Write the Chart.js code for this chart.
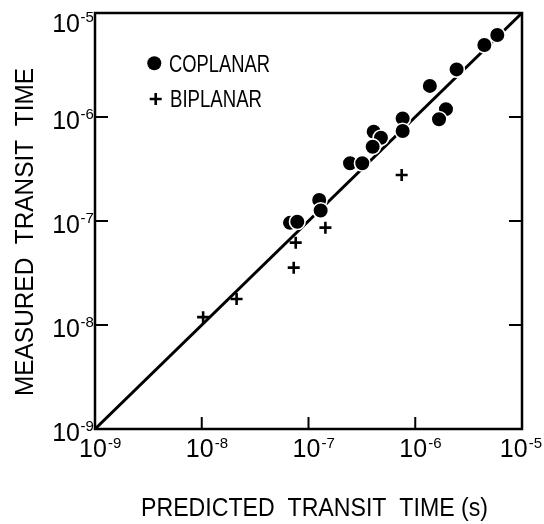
<!DOCTYPE html>
<html>
<head>
<meta charset="utf-8">
<script src="https://cdn.jsdelivr.net/npm/chart.js@4/dist/chart.umd.min.js"></script>
<style>
  html, body { margin: 0; padding: 0; background: #fff; }
  #wrap { width: 544px; height: 524px; }
</style>
</head>
<body>
<div id="wrap"><canvas id="c" width="544" height="524"></canvas></div>
<script>
// ---- data ----
const coplanarX = [5.87e-6, 4.44e-6, 2.44e-6, 1.37e-6, 1.94e-6, 1.67e-6, 7.62e-7, 7.62e-7, 4.08e-7, 4.77e-7, 3.99e-7, 2.45e-7, 3.19e-7, 1.26e-7, 1.30e-7, 6.71e-8, 7.85e-8];
const coplanarY = [6.14e-6, 4.92e-6, 2.87e-6, 1.99e-6, 1.19e-6, 9.5e-7, 9.7e-7, 7.33e-7, 7.22e-7, 6.32e-7, 5.18e-7, 3.59e-7, 3.59e-7, 1.59e-7, 1.26e-7, 9.6e-8, 9.85e-8];
const biplanarX = [7.46e-7, 1.44e-7, 7.59e-8, 7.27e-8, 2.12e-8, 1.03e-8];
const biplanarY = [2.77e-7, 8.63e-8, 6.19e-8, 3.56e-8, 1.78e-8, 1.19e-8];
const lineX = [1e-9, 1e-5];
const lineY = [1e-9, 1e-5];
const tickValues = [1e-9, 1e-8, 1e-7, 1e-6, 1e-5];
const tickBase = '10';
const tickExponents = ['-9', '-8', '-7', '-6', '-5'];
const seriesNames = ['COPLANAR', 'BIPLANAR'];
const xTitle = 'PREDICTED  TRANSIT  TIME (s)';
const yTitle = 'MEASURED  TRANSIT  TIME';

const pts = (xs, ys) => xs.map((x, i) => ({ x: x, y: ys[i] }));
const FONT = '"Liberation Sans", Arial, sans-serif';

function fitText(ctx, text, x, y, width, align) {
  const w = ctx.measureText(text).width;
  ctx.save();
  ctx.translate(x, y);
  ctx.scale(width / w, 1);
  ctx.textAlign = 'left';
  ctx.fillText(text, align === 'center' ? -w / 2 : 0, 0);
  ctx.restore();
}

const decorPlugin = {
  id: 'decor',
  afterDatasetsDraw(chart) {
    const ctx = chart.ctx;
    const a = chart.chartArea;
    const xs = chart.scales.x, ys = chart.scales.y;
    ctx.save();
    ctx.strokeStyle = '#000';
    ctx.fillStyle = '#000';
    // frame
    ctx.lineWidth = 2.5;
    ctx.strokeRect(a.left, a.top, a.right - a.left, a.bottom - a.top);
    // inward ticks
    ctx.lineWidth = 2;
    ctx.beginPath();
    ys.ticks.forEach(t => {
      const y = ys.getPixelForValue(t.value);
      ctx.moveTo(a.left, y); ctx.lineTo(a.left + 13, y);
      ctx.moveTo(a.right, y); ctx.lineTo(a.right - 13, y);
    });
    xs.ticks.forEach(t => {
      const x = xs.getPixelForValue(t.value);
      ctx.moveTo(x, a.bottom); ctx.lineTo(x, a.bottom - 12);
    });
    ctx.stroke();
    // tick labels
    ctx.textBaseline = 'alphabetic';
    ys.ticks.forEach((t, i) => {
      let yc = Math.max(ys.getPixelForValue(t.value) + 3, a.top + 10);
      ctx.font = '25px ' + FONT;
      ctx.textAlign = 'right';
      ctx.fillText(tickBase, a.left - 15, yc + 9);
      ctx.font = '15px ' + FONT;
      ctx.textAlign = 'left';
      ctx.fillText(tickExponents[i], a.left - 14.5, yc - 6.5 + 5.4);
    });
    const W = chart.width;
    xs.ticks.forEach((t, i) => {
      let xc = xs.getPixelForValue(t.value) - 2;
      ctx.font = '25px ' + FONT;
      const w = ctx.measureText(tickBase).width;
      ctx.font = '15px ' + FONT;
      const ew = ctx.measureText(tickExponents[i]).width;
      const overflow = xc + w / 2 + 1 + ew - (W - 2);
      if (overflow > 0) xc -= overflow;
      ctx.textAlign = 'left';
      ctx.fillText(tickExponents[i], xc + w / 2 + 1, a.bottom + 19);
      ctx.font = '25px ' + FONT;
      ctx.textAlign = 'center';
      ctx.fillText(tickBase, xc, a.bottom + 28);
    });
    // axis titles
    ctx.font = '25px ' + FONT;
    fitText(ctx, xTitle, 314.5, 516, 347, 'center');
    ctx.save();
    ctx.translate(24, 232);
    ctx.rotate(-Math.PI / 2);
    fitText(ctx, yTitle, 0, 9, 328, 'center');
    ctx.restore();
    // legend
    ctx.beginPath();
    ctx.arc(154.3, 63.3, 7, 0, Math.PI * 2);
    ctx.fill();
    ctx.lineWidth = 2.6;
    ctx.beginPath();
    ctx.moveTo(149.7, 99); ctx.lineTo(161.7, 99);
    ctx.moveTo(155.7, 93); ctx.lineTo(155.7, 105);
    ctx.stroke();
    ctx.font = '23px ' + FONT;
    fitText(ctx, seriesNames[0], 169, 63.5 + 8.2, 101, 'left');
    fitText(ctx, seriesNames[1], 170, 98.5 + 8.2, 92, 'left');
    ctx.restore();
  }
};

const logAxis = (pos) => ({
  type: 'logarithmic',
  position: pos,
  min: tickValues[0],
  max: tickValues[tickValues.length - 1],
  afterBuildTicks: s => { s.ticks = tickValues.map(v => ({ value: v })); },
  ticks: { display: false, padding: 0 },
  grid: { display: false, drawTicks: false },
  border: { display: false },
  title: { display: false }
});

new Chart(document.getElementById('c'), {
  type: 'scatter',
  data: {
    datasets: [
      {
        label: seriesNames[0],
        data: pts(coplanarX, coplanarY),
        order: 0,
        pointStyle: 'circle',
        pointRadius: 7.8,
        pointBackgroundColor: '#000',
        pointBorderColor: '#fff',
        pointBorderWidth: 1.6
      },
      {
        label: seriesNames[1],
        data: pts(biplanarX, biplanarY),
        order: 1,
        pointStyle: 'cross',
        pointRadius: 6,
        pointBorderColor: '#000',
        pointBorderWidth: 2.6
      },
      {
        label: 'fit',
        data: pts(lineX, lineY),
        order: 2,
        showLine: true,
        borderColor: '#000',
        borderWidth: 3,
        pointRadius: 0,
        fill: false
      }
    ]
  },
  options: {
    responsive: false,
    animation: false,
    devicePixelRatio: 1,
    layout: { padding: { left: 95, right: 22, top: 13, bottom: 95 } },
    plugins: { legend: { display: false }, tooltip: { enabled: false }, title: { display: false } },
    scales: { x: logAxis('bottom'), y: logAxis('left') }
  },
  plugins: [decorPlugin]
});
</script>
</body>
</html>
